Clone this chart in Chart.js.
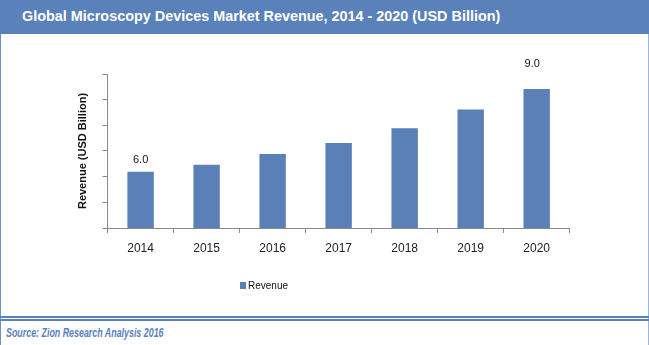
<!DOCTYPE html>
<html>
<head>
<meta charset="utf-8">
<script src="https://cdn.jsdelivr.net/npm/chart.js@4.4.1/dist/chart.umd.min.js"></script>
<style>
  html, body { margin: 0; padding: 0; background: #ffffff; }
  #wrap { position: relative; width: 649px; height: 345px; overflow: hidden; background: #fff; }
  #title { position: absolute; left: 0; top: 0; width: 649px; height: 34px; background: #5b81ba;
    color: #ffffff; font-family: "Liberation Sans", Arial, sans-serif; font-weight: bold; font-size: 14.4px;
    line-height: 33px; white-space: nowrap; }
  #title span { position: absolute; left: 22px; top: 0; }
  #lb { position: absolute; left: 0; top: 34px; width: 1px; height: 311px; background: #6f90c6; }
  #rb { position: absolute; left: 648px; top: 34px; width: 1px; height: 311px; background: #9db4da; }
  #l1 { position: absolute; left: 0; top: 316px; width: 649px; height: 2px; background: #5b81ba; }
  #l2 { position: absolute; left: 0; top: 319px; width: 649px; height: 1.5px; background: #5b81ba; }
  #src { position: absolute; left: 6px; top: 325px; color: #5b81ba; font-family: "Liberation Sans", Arial, sans-serif;
    font-style: italic; font-weight: bold; font-size: 12.5px; line-height: 16px; white-space: nowrap;
    transform: scaleX(0.71); transform-origin: 0 0; }
  #c { position: absolute; left: 1px; top: 34px; }
</style>
</head>
<body>
<div id="wrap">
  <div id="title"><span>Global Microscopy Devices Market Revenue, 2014 - 2020 (USD Billion)</span></div>
  <canvas id="c" width="646" height="282"></canvas>
  <div id="lb"></div>
  <div id="rb"></div>
  <div id="l1"></div>
  <div id="l2"></div>
  <div id="src">Source: Zion Research Analysis 2016</div>
</div>
<script>
// ---- data ----
const categories = ['2014', '2015', '2016', '2017', '2018', '2019', '2020'];
const revenue = [6.0, 6.25, 6.64, 7.04, 7.57, 8.25, 9.0];
const valueLabels = ['6.0', '', '', '', '', '', '9.0'];
const seriesName = 'Revenue';
const yAxisTitle = 'Revenue (USD Billion)';
const yMin = 3.96, yStep = 0.93, yMax = 3.96 + 6 * 0.93;

const barColor = '#5b80b8';
const axisColor = '#898989';

const valueLabelPlugin = {
  id: 'valueLabels',
  afterDatasetsDraw(chart, args, opts) {
    const meta = chart.getDatasetMeta(0);
    const ctx = chart.ctx;
    ctx.save();
    ctx.font = '11px "Liberation Sans", Arial, sans-serif';
    ctx.fillStyle = '#111111';
    ctx.textAlign = 'center';
    ctx.textBaseline = 'middle';
    meta.data.forEach((bar, i) => {
      const t = valueLabels[i];
      if (!t) return;
      const off = opts.offsets[i] || {dx: 0, dy: 12};
      ctx.fillText(t, bar.x + off.dx, bar.y - off.dy);
    });
    ctx.restore();
  }
};

const customLegend = {
  id: 'customLegend',
  afterDraw(chart, args, opts) {
    const ctx = chart.ctx;
    ctx.save();
    ctx.fillStyle = barColor;
    ctx.fillRect(opts.x, opts.y, 6, 7);
    ctx.font = '10px "Liberation Sans", Arial, sans-serif';
    ctx.fillStyle = '#111111';
    ctx.textAlign = 'left';
    ctx.textBaseline = 'middle';
    ctx.fillText(chart.data.datasets[0].label, opts.x + 8, opts.y + 4);
    ctx.restore();
  }
};

new Chart(document.getElementById('c'), {
  type: 'bar',
  data: {
    labels: categories,
    datasets: [{
      label: seriesName,
      data: revenue,
      backgroundColor: barColor,
      borderWidth: 0,
      categoryPercentage: 1.0,
      barPercentage: 0.4
    }]
  },
  options: {
    responsive: false,
    animation: false,
    devicePixelRatio: 1,
    layout: { padding: { left: 71.4, right: 77.3, top: 40, bottom: 52.6 } },
    plugins: {
      legend: { display: false },
      tooltip: { enabled: false },
      title: { display: false },
      valueLabels: { offsets: { 0: {dx: 0, dy: 12}, 6: {dx: -4.5, dy: 24.5} } },
      customLegend: { x: 239, y: 248 }
    },
    scales: {
      x: {
        offset: true,
        grid: { display: true, drawOnChartArea: false, drawTicks: true, tickLength: 5, color: axisColor, offset: true },
        border: { display: true, color: axisColor, width: 1 },
        ticks: { color: '#222222', padding: 8, font: { family: '"Liberation Sans", Arial, sans-serif', size: 12 } }
      },
      y: {
        min: yMin,
        max: yMax,
        grid: { display: true, drawOnChartArea: false, drawTicks: true, tickLength: 5, color: axisColor },
        border: { display: true, color: axisColor, width: 1 },
        ticks: { display: false, stepSize: yStep },
        title: {
          display: true,
          text: yAxisTitle,
          color: '#111111',
          padding: { top: 4, bottom: 13 },
          font: { family: '"Liberation Sans", Arial, sans-serif', size: 11, weight: 'bold' }
        }
      }
    }
  },
  plugins: [valueLabelPlugin, customLegend]
});
</script>
</body>
</html>
